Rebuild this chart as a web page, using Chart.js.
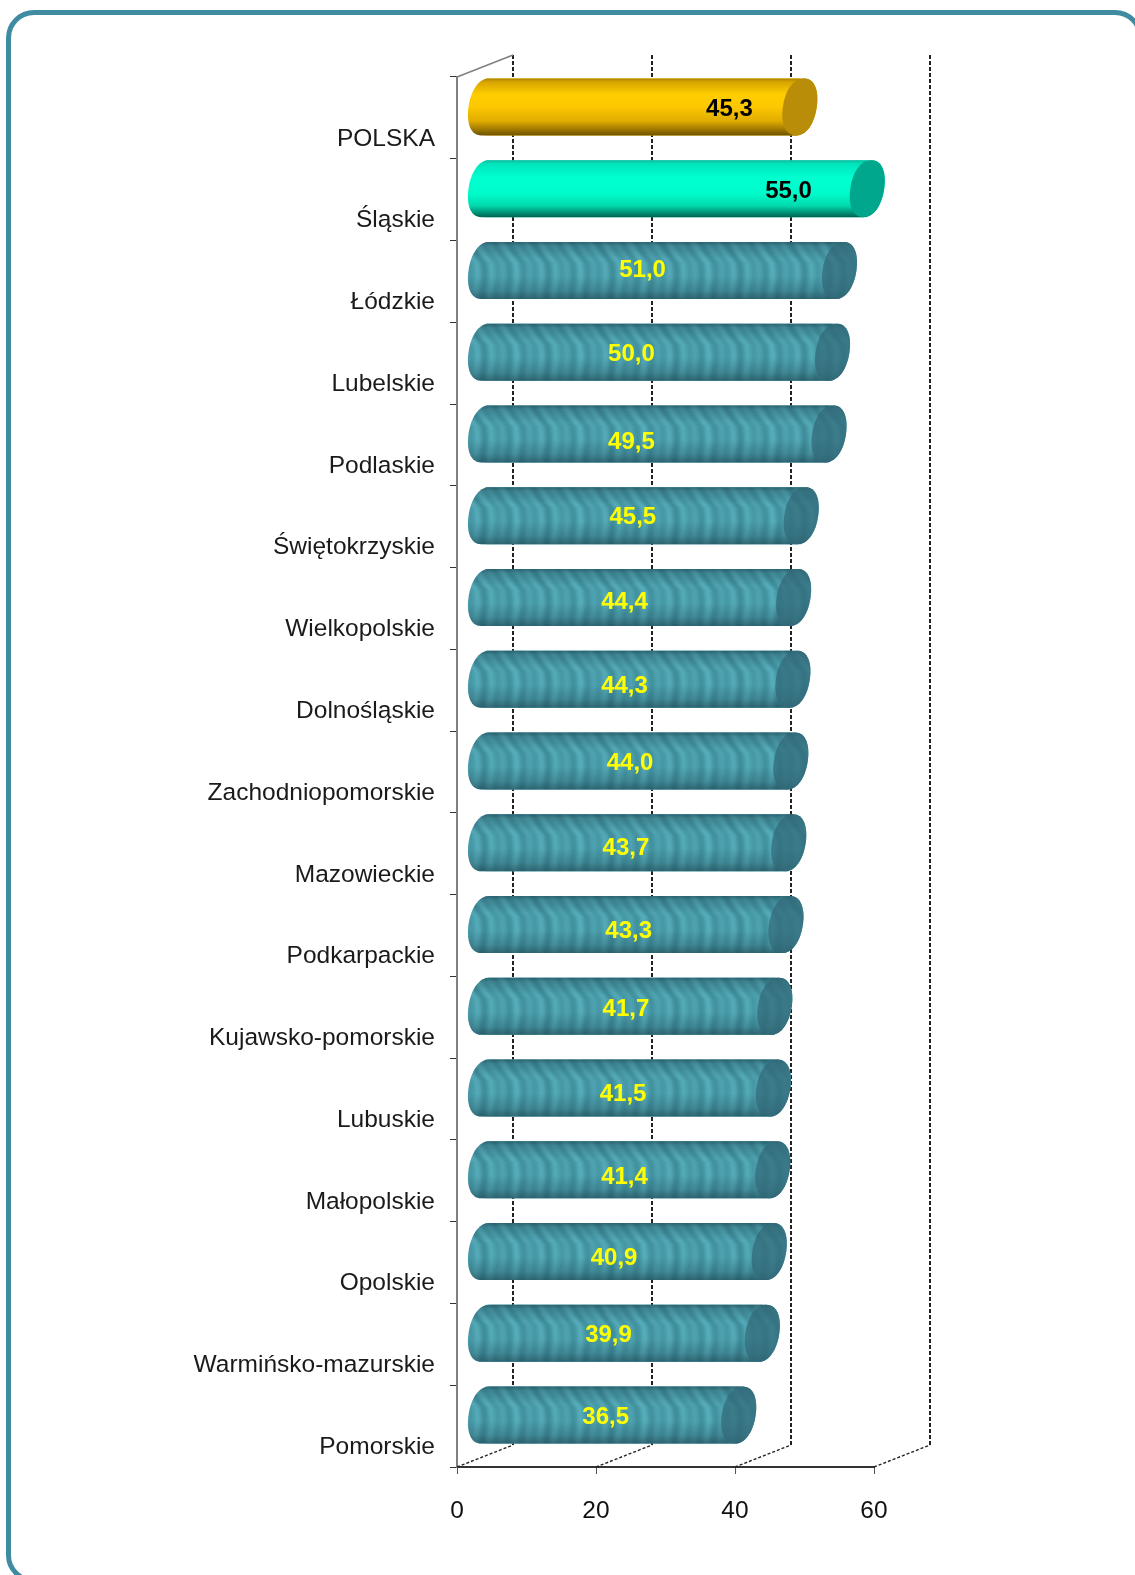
<!DOCTYPE html>
<html lang="pl">
<head>
<meta charset="utf-8">
<title>Wykres</title>
<script src="https://cdn.jsdelivr.net/npm/chart.js"></script>
<style>
    html, body { margin: 0; padding: 0; background: #fff; overflow: hidden; }
    #wrap { position: relative; width: 1135px; height: 1575px; overflow: hidden; }
    #frame {
        position: absolute; left: 6px; top: 10px; width: 1137px; height: 1573px;
        border: 5px solid #3f8ca2; border-radius: 28px; box-sizing: border-box;
    }
    /* the lower right corner of the frame is cut off in the original */
    #cut { position: absolute; right: 0; bottom: 0; width: 50px; height: 50px; background: #fff; }
    #chart { position: absolute; left: 0; top: 0; filter: blur(0.4px); }
</style>
</head>
<body>
<div id="wrap">
    <div id="frame"></div>
    <div id="cut"></div>
    <canvas id="chart" width="1135" height="1575"></canvas>
</div>
<script>
// Data
var regions = ['POLSKA', 'Śląskie', 'Łódzkie', 'Lubelskie', 'Podlaskie', 'Świętokrzyskie', 'Wielkopolskie',
    'Dolnośląskie', 'Zachodniopomorskie', 'Mazowieckie', 'Podkarpackie', 'Kujawsko-pomorskie', 'Lubuskie',
    'Małopolskie', 'Opolskie', 'Warmińsko-mazurskie', 'Pomorskie'];
var values = [45.3, 55.0, 51.0, 50.0, 49.5, 45.5, 44.4, 44.3, 44.0, 43.7, 43.3, 41.7, 41.5, 41.4, 40.9, 39.9, 36.5];
var xTicks = [0, 20, 40, 60];
// the value labels were placed by hand in the original
var labelAnchors = [39.2, 47.7, 26.7, 25.1, 25.1, 25.3, 24.1, 24.1, 24.9, 24.3, 24.7, 24.3, 23.9, 24.1, 22.6, 21.8, 21.4];
var labelNudge = [2, 3, 0, 2, 8, 2, 5, 7, 2, 6, 7, 3, 6, 8, 7, 2, 2];

// Fake 3D depth of the plot box
var DEPTH_X = 56, DEPTH_Y = -22;
var FONT = '"Liberation Sans", Arial, sans-serif';

var styles = {
    gold: {
        mid: '#ffcc00', cap: '#b98d08', text: '#000',
        body: [[0, '#a87f00'], [0.06, '#d6a400'], [0.28, '#ffcd00'], [0.5, '#fdc800'], [0.75, '#e0ac00'], [0.93, '#8f6c00'], [1, '#6d5200']]
    },
    mint: {
        mid: '#00ffcc', cap: '#00a78d', text: '#000',
        body: [[0, '#16b59a'], [0.06, '#00e3bb'], [0.3, '#00ffd0'], [0.6, '#00fbca'], [0.8, '#00d9ad'], [0.94, '#00876f'], [1, '#00604f']]
    },
    teal: { mid: '#4ea6ba', cap: 'rgba(50,105,120,0.72)', text: '#ffff00' }
};

function styleFor(i) {
    return i === 0 ? styles.gold : i === 1 ? styles.mint : styles.teal;
}

// Streaky texture of the teal bars
function makeTexture(w, h) {
    var c = document.createElement('canvas');
    c.width = w;
    c.height = h;
    var g = c.getContext('2d');
    var img = g.createImageData(w, h);
    for (var y = 0; y < h; y++) {
        var u = y / h;
        var slant = u < 0.36 ? (0.36 - u) * 40 : 0;
        var wob = 0.45 * Math.sin(2 * Math.PI * y / 44);
        for (var x = 0; x < w; x++) {
            var a = Math.sin(2 * Math.PI * 5 * (x + slant) / 64 + wob);
            var b = Math.sin(2 * Math.PI * 3 * (x + slant) / 64 + 0.7 + wob);
            var t = 0.5 + 0.3 * a + 0.2 * b;
            var k = (x + y * w) * 4;
            img.data[k] = 64 + t * 24;
            img.data[k + 1] = 144 + t * 32;
            img.data[k + 2] = 158 + t * 32;
            img.data[k + 3] = 255;
        }
    }
    g.putImageData(img, 0, 0);
    return c;
}

function signedPow(v, p) {
    return (v < 0 ? -1 : 1) * Math.pow(Math.abs(v), p);
}

// Slightly slanted ellipse end of a cylinder
function endPoints(cx, cy, ry, from, to) {
    var pts = [];
    for (var i = 0; i <= 32; i++) {
        var t = from + (to - from) * i / 32;
        var s = signedPow(Math.sin(t), 0.95);
        pts.push([cx + 17 * signedPow(Math.cos(t), 0.88) + 4 * s, cy - ry * s]);
    }
    return pts;
}

function tracePoints(ctx, pts, start) {
    pts.forEach(function (p, i) {
        if (start && i === 0) {
            ctx.moveTo(p[0], p[1]);
        } else {
            ctx.lineTo(p[0], p[1]);
        }
    });
}

// Draws the cylinders over the bars the library has placed
var cylinderPlugin = {
    id: 'cylinders',
    beforeDatasetsDraw: function (chart) {
        var ctx = chart.ctx, area = chart.chartArea, x = chart.scales.x;
        ctx.save();
        // back wall grid lines
        ctx.strokeStyle = '#222';
        ctx.lineWidth = 2;
        ctx.setLineDash([4, 2]);
        xTicks.forEach(function (t) {
            var px = x.getPixelForValue(t) + DEPTH_X;
            ctx.beginPath();
            ctx.moveTo(px, area.top + DEPTH_Y);
            ctx.lineTo(px, area.bottom + DEPTH_Y);
            ctx.stroke();
        });
        // floor lines
        ctx.lineWidth = 1.4;
        ctx.setLineDash([3, 2]);
        xTicks.forEach(function (t) {
            var px = x.getPixelForValue(t);
            ctx.beginPath();
            ctx.moveTo(px, area.bottom);
            ctx.lineTo(px + DEPTH_X, area.bottom + DEPTH_Y);
            ctx.stroke();
        });
        // top of the left wall
        ctx.setLineDash([]);
        ctx.strokeStyle = '#808080';
        ctx.lineWidth = 1.5;
        ctx.beginPath();
        ctx.moveTo(area.left, area.top);
        ctx.lineTo(area.left + DEPTH_X, area.top + DEPTH_Y);
        ctx.stroke();
        ctx.restore();
        // the bars are shifted half way into the box
        ctx.save();
        ctx.translate(DEPTH_X / 2, DEPTH_Y / 2);
    },
    afterDatasetsDraw: function (chart) {
        var ctx = chart.ctx, meta = chart.getDatasetMeta(0), x = chart.scales.x;
        ctx.restore();
        var texture = ctx.createPattern(makeTexture(64, 57), 'repeat');
        meta.data.forEach(function (bar, i) {
            var st = styleFor(i);
            var h = bar.height, ry = h / 2, top = bar.y + DEPTH_Y / 2 - ry;
            var cy = bar.y + DEPTH_Y / 2;
            var left = bar.base + DEPTH_X / 2, right = bar.x + DEPTH_X / 2;
            var grad = ctx.createLinearGradient(0, top, 0, top + h);

            ctx.save();
            ctx.beginPath();
            tracePoints(ctx, endPoints(right, cy, ry, Math.PI / 2, -Math.PI / 2), true);
            tracePoints(ctx, endPoints(left, cy, ry, -Math.PI / 2, -3 * Math.PI / 2), false);
            ctx.closePath();
            if (st.body) {
                st.body.forEach(function (s) { grad.addColorStop(s[0], s[1]); });
                ctx.fillStyle = grad;
                ctx.fill();
            } else {
                texture.setTransform(new DOMMatrix().translate(0, top));
                ctx.fillStyle = texture;
                ctx.fill();
                grad.addColorStop(0, 'rgba(25,60,72,0.6)');
                grad.addColorStop(0.07, 'rgba(25,60,72,0.3)');
                grad.addColorStop(0.3, 'rgba(25,60,72,0.03)');
                grad.addColorStop(0.6, 'rgba(25,60,72,0.03)');
                grad.addColorStop(0.85, 'rgba(25,60,72,0.28)');
                grad.addColorStop(1, 'rgba(25,60,72,0.6)');
                ctx.fillStyle = grad;
                ctx.fill();
            }
            // end cap
            ctx.beginPath();
            tracePoints(ctx, endPoints(right, cy, ry, 0, 2 * Math.PI), true);
            ctx.closePath();
            ctx.fillStyle = st.cap;
            ctx.fill();
            ctx.restore();

            // value label
            ctx.save();
            ctx.font = 'bold 24px ' + FONT;
            ctx.fillStyle = st.text;
            ctx.textAlign = 'center';
            ctx.textBaseline = 'middle';
            ctx.fillText(values[i].toFixed(1).replace('.', ','), x.getPixelForValue(labelAnchors[i]), bar.y - 11 + labelNudge[i]);
            ctx.restore();
        });
    }
};

new Chart(document.getElementById('chart').getContext('2d'), {
    type: 'bar',
    data: {
        labels: regions,
        datasets: [{
            data: values,
            backgroundColor: values.map(function (v, i) { return styleFor(i).mid; }),
            barPercentage: 0.697,
            categoryPercentage: 1,
            clip: false
        }]
    },
    options: {
        indexAxis: 'y',
        responsive: false,
        animation: false,
        layout: { padding: { left: 0, right: 261, top: 77, bottom: 0 } },
        plugins: { legend: { display: false }, tooltip: { enabled: false } },
        scales: {
            x: {
                min: 0,
                max: 60,
                afterFit: function (scale) { scale.height = 108; },
                afterBuildTicks: function (scale) {
                    scale.ticks = xTicks.map(function (v) { return { value: v }; });
                },
                border: { color: '#333', width: 2 },
                grid: { drawOnChartArea: false, color: '#555', tickLength: 7 },
                ticks: {
                    padding: 23,
                    maxRotation: 0,
                    color: '#111',
                    font: { family: FONT, size: 24.5 }
                }
            },
            y: {
                afterFit: function (scale) { scale.width = 457; },
                border: { color: '#808080', width: 2 },
                grid: { drawOnChartArea: false, color: '#333', tickLength: 7 },
                ticks: {
                    padding: 15,
                    autoSkip: false,
                    labelOffset: 21,
                    color: '#1a1a1a',
                    font: { family: FONT, size: 24.5 }
                }
            }
        }
    },
    plugins: [cylinderPlugin]
});
</script>
</body>
</html>
